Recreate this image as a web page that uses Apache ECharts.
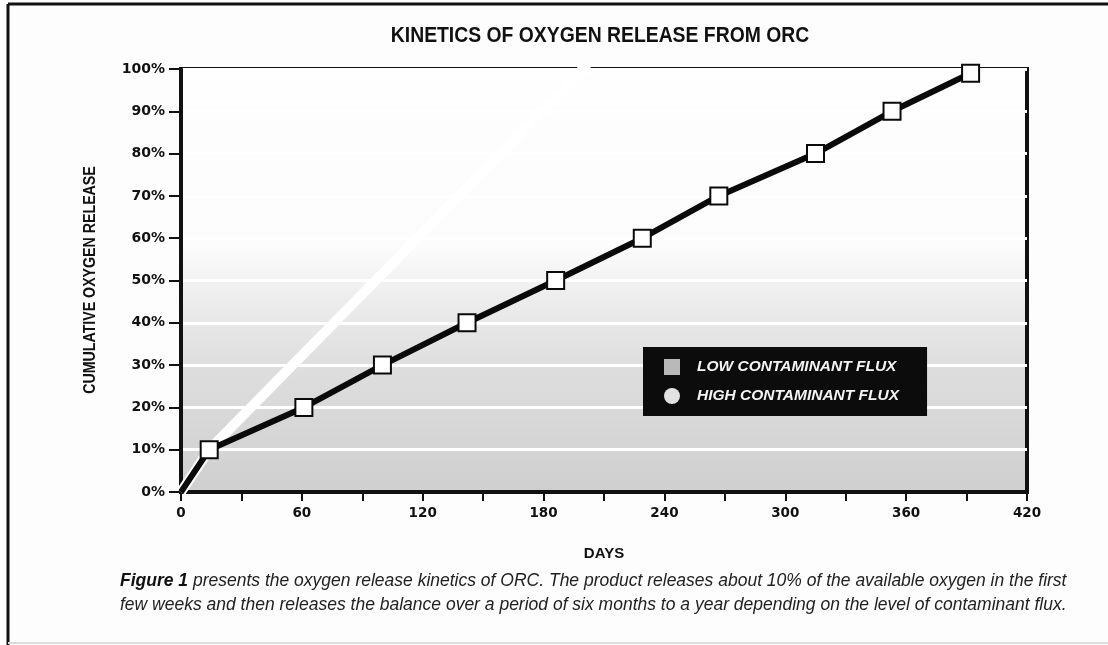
<!DOCTYPE html>
<html>
<head>
<meta charset="utf-8">
<script src="https://cdn.jsdelivr.net/npm/echarts@6/dist/echarts.min.js"></script>
<style>
html,body{margin:0;padding:0;background:#fdfdfd;}
#chart{width:1108px;height:645px;}
</style>
</head>
<body>
<div id="chart"></div>
<script>
// data: days vs cumulative % released
var lowDays = [0, 14, 61, 100, 142, 186, 229, 267, 315, 353, 392];
var lowPct  = [0, 10, 20, 30, 40, 50, 60, 70, 80, 90, 99];
var highDays = [0, 14, 200];
var highPct  = [0, 10, 100];
var seriesNames = ["LOW CONTAMINANT FLUX", "HIGH CONTAMINANT FLUX"];
var caption1 = "presents the oxygen release kinetics of ORC. The product releases about 10% of the available oxygen in the first";
var caption2 = "few weeks and then releases the balance over a period of six months to a year depending on the level of contaminant flux.";

var narrow = "'Liberation Sans Narrow', 'Liberation Sans', sans-serif";
var wide = "'DejaVu Sans', Verdana, sans-serif";

var lowData = lowDays.map(function(d, i){
	var item = {value: [d, lowPct[i]]};
	if (i == 0) item.symbol = "none";
	return item;
});
var highData = highDays.map(function(d, i){
	var item = {value: [d, highPct[i]]};
	if (i < 2) item.symbol = "none";
	return item;
});

var myChart = echarts.init(document.getElementById("chart"));
var option = {
	backgroundColor: "#fdfdfd",
	animation: false,
	grid: {
		left: 181, right: 81, top: 69, bottom: 153,
		show: true,
		borderColor: "#111",
		borderWidth: 4,
		backgroundColor: new echarts.graphic.LinearGradient(0, 0, 0, 1, [
			{offset: 0, color: "#fefefe"},
			{offset: 0.42, color: "#fcfcfc"},
			{offset: 0.55, color: "#ececec"},
			{offset: 0.7, color: "#dedede"},
			{offset: 1, color: "#cfcfcf"}
		])
	},
	xAxis: {
		type: "value",
		min: 0, max: 420, interval: 30,
		name: "DAYS",
		nameLocation: "middle",
		nameGap: 54,
		nameTextStyle: {fontFamily: narrow, fontWeight: "bold", fontSize: 15, color: "#111"},
		axisLine: {lineStyle: {color: "#111", width: 4}},
		axisTick: {length: 9, lineStyle: {color: "#111", width: 2}},
		axisLabel: {
			margin: 14,
			fontFamily: wide, fontWeight: "bold", fontSize: 13.5, color: "#111",
			formatter: function(v){ return v % 60 == 0 ? String(v) : ""; }
		},
		splitLine: {show: false}
	},
	yAxis: {
		type: "value",
		min: 0, max: 100, interval: 10,
		axisLine: {lineStyle: {color: "#111", width: 4}},
		axisTick: {length: 12, lineStyle: {color: "#111", width: 2}},
		axisLabel: {
			margin: 16,
			fontFamily: wide, fontWeight: "bold", fontSize: 14, color: "#111",
			formatter: "{value}%"
		},
		splitLine: {show: true, lineStyle: {color: "#ffffff", width: 3}}
	},
	legend: {
		orient: "vertical",
		left: 643, top: 347,
		backgroundColor: "#0c0c0c",
		padding: [12, 28, 12, 21],
		itemWidth: 16, itemHeight: 16,
		itemGap: 13,
		textStyle: {
			color: "#f4f4f4", fontFamily: narrow, fontWeight: "bold",
			fontStyle: "italic", fontSize: 15.5, padding: [0, 0, 0, 12]
		},
		data: [
			{name: seriesNames[0], icon: "rect", itemStyle: {color: "#b9b9b9", borderWidth: 0}},
			{name: seriesNames[1], icon: "circle", itemStyle: {color: "#e2e2e2", borderWidth: 0}}
		]
	},
	series: [
		{
			name: seriesNames[1],
			type: "line",
			clip: false,
			z: 2,
			data: highData,
			lineStyle: {color: "#ffffff", width: 10},
			symbol: "circle",
			symbolSize: 14,
			itemStyle: {color: "#ffffff", borderWidth: 0}
		},
		{
			name: seriesNames[0],
			type: "line",
			clip: false,
			z: 3,
			data: lowData,
			lineStyle: {color: "#0a0a0a", width: 6},
			symbol: "rect",
			symbolSize: 17,
			itemStyle: {color: "#ffffff", borderColor: "#0a0a0a", borderWidth: 2}
		}
	],
	graphic: [
		{type: "line", shape: {x1: 8, y1: 4, x2: 1108, y2: 4}, style: {stroke: "#111", lineWidth: 3}},
		{type: "line", shape: {x1: 8, y1: 4, x2: 8, y2: 645}, style: {stroke: "#111", lineWidth: 3}},
		{type: "line", shape: {x1: 8, y1: 643, x2: 1108, y2: 643}, style: {stroke: "#dcdcdc", lineWidth: 2}},
		{
			type: "text", x: 600, y: 36, scaleX: 0.88,
			style: {
				text: "KINETICS OF OXYGEN RELEASE FROM ORC",
				font: "bold 22px " + narrow,
				fill: "#111", align: "center", verticalAlign: "middle"
			}
		},
		// y axis title, condensed by scaling
		{
			type: "text", x: 90, y: 280, rotation: Math.PI / 2, scaleX: 0.86,
			style: {
				text: "CUMULATIVE OXYGEN RELEASE",
				font: "bold 16.5px " + narrow,
				fill: "#111", align: "center", verticalAlign: "middle"
			}
		},
		{
			type: "text", x: 120, y: 581,
			style: {
				text: "{b|Figure 1} " + caption1,
				font: "italic 17.5px " + narrow,
				fill: "#222", verticalAlign: "middle",
				rich: {b: {font: "bold italic 17.5px " + narrow, fill: "#111"}}
			}
		},
		{
			type: "text", x: 120, y: 605,
			style: {
				text: caption2,
				font: "italic 17.5px " + narrow,
				fill: "#222", verticalAlign: "middle"
			}
		}
	]
};
myChart.setOption(option);
</script>
</body>
</html>
